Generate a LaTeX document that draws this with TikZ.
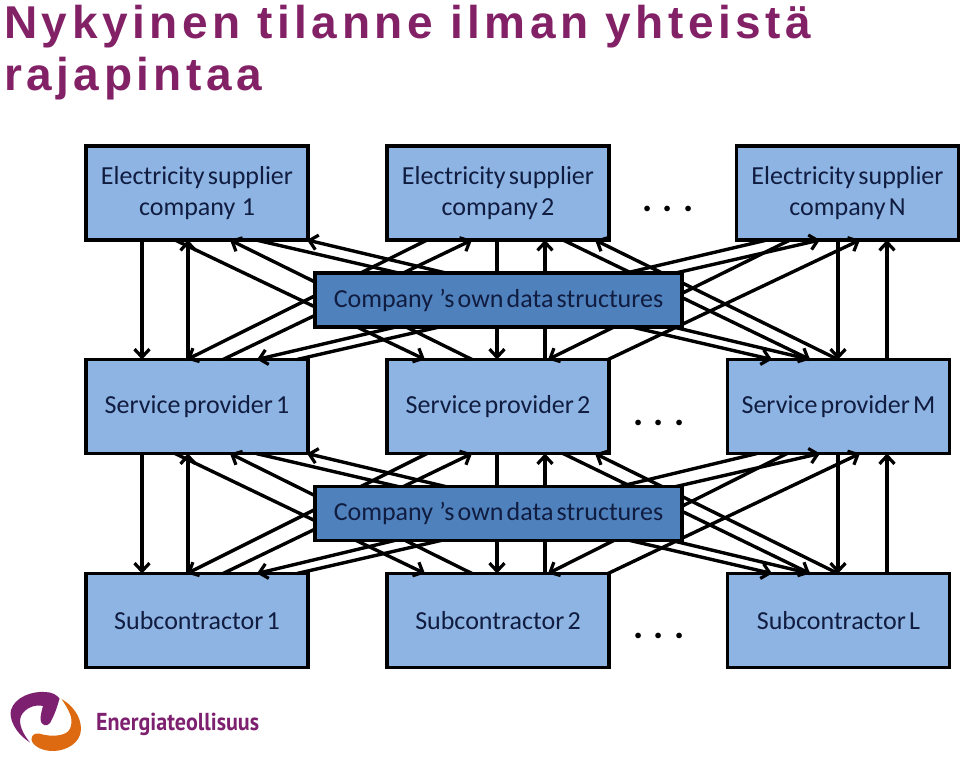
\documentclass[tikz,border=0pt]{standalone}
\usepackage{fontspec}
\usepackage{graphicx}
\setmainfont[WordSpace=0.55]{Carlito}
\newfontfamily\titlefont[LetterSpace=9.8]{Liberation Sans Bold}
\newfontfamily\logofont{PT Sans Bold}
\newfontfamily\dotsfont[LetterSpace=28]{Carlito Bold}
\usetikzlibrary{arrows.meta}
\definecolor{boxblue}{HTML}{8EB4E3}
\definecolor{midblue}{HTML}{4F81BD}
\definecolor{inkblue}{HTML}{101C40}
\definecolor{plum}{HTML}{832167}
\definecolor{logoplum}{HTML}{7D2070}
\definecolor{logoorange}{HTML}{DD6A10}
\tikzset{
  x=1pt,y=-1pt,
  boxbase/.style={draw=black,line width=3.6pt,rectangle,outer sep=0pt,inner sep=0pt,align=center,
    text=inkblue,font=\fontsize{26}{31}\selectfont},
  outerbox/.style={boxbase,fill=boxblue,minimum width=222pt,minimum height=94pt},
  midbox/.style={boxbase,fill=midblue,minimum width=367pt,minimum height=54pt},
  link/.style={draw=black,line width=3.4pt,-{Straight Barb[length=8pt,width=15pt,line width=3.2pt]}},
  heading/.style={anchor=base west,inner sep=0pt,text=plum,font=\fontsize{46}{52}\selectfont\titlefont},
  dotsnode/.style={inner sep=0pt,text=black,font=\fontsize{38}{38}\selectfont\dotsfont}
}
\newcommand{\linkdown}[4]{\draw[link] (#2,0 |- #1.south) -- (#4,0 |- #3.north);}
\newcommand{\linkup}[4]{\draw[link] (#2,0 |- #1.north) -- (#4,0 |- #3.south);}
\newcommand{\layer}[8]{%
  \linkdown{#1}{142}{#4}{142}
  \linkup{#4}{188}{#1}{188}
  \linkdown{#2}{427}{#4}{187}
  \linkup{#4}{223}{#2}{472}
  \linkdown{#1}{175}{#5}{425}
  \linkup{#5}{472}{#1}{230}
  \linkdown{#1}{256}{#6}{772}
  \linkup{#6}{810}{#1}{307}
  \linkdown{#3}{#7}{#4}{257}
  \linkup{#4}{297}{#3}{820}
  \linkdown{#2}{497}{#5}{497}
  \linkup{#5}{545}{#2}{545}
  \linkdown{#2}{563}{#6}{810}
  \linkup{#6}{838}{#2}{595}
  \linkdown{#3}{#8}{#5}{548}
  \linkup{#5}{608}{#3}{860}
  \linkdown{#3}{838}{#6}{838}
  \linkup{#6}{887}{#3}{887}
}
\begin{document}
\begin{tikzpicture}
\useasboundingbox (0,0) rectangle (960,757);
\fill[white] (0,0) rectangle (960,757);

\node[heading] (titleA) at (4,39) {Nykyinen tilanne ilman yhteistä};
\node[heading] (titleB) at (4,91) {rajapintaa};

% outer boxes
\node[outerbox] (t1) at (197,193) {Electricity supplier\\company \ 1};
\node[outerbox] (t2) at (498,193) {Electricity supplier\\company 2};
\node[outerbox] (t3) at (847.5,193) {Electricity supplier\\company N};
\node[outerbox] (m1) at (197,406.5) {Service provider 1};
\node[outerbox] (m2) at (498,406.5) {Service provider 2};
\node[outerbox] (m3) at (838.5,406.5) {Service provider M};
\node[outerbox] (b1) at (197,620.5) {Subcontractor 1};
\node[outerbox] (b2) at (498,620.5) {Subcontractor 2};
\node[outerbox] (b3) at (838.5,620.5) {Subcontractor L};

% connectors
\layer{t1}{t2}{t3}{m1}{m2}{m3}{767}{790}
\layer{m1}{m2}{m3}{b1}{b2}{b3}{757}{787}

% central boxes over the connectors
\node[midbox] (c1) at (498.5,300) {Company\hspace{3pt} ’s own data structures};
\node[midbox] (c2) at (498.5,513.5) {Company\hspace{3pt} ’s own data structures};

% ellipses
\node[dotsnode,anchor=base west] (d1) at (642,211) {...};
\node[dotsnode,anchor=base west] (d2) at (633,425) {...};
\node[dotsnode,anchor=base west] (d3) at (633,638) {...};

% logo
\fill[logoplum] (30,742.5) .. controls (14,732) and (9,718) .. (11,710)
  .. controls (15,697) and (32,691) .. (45,692)
  .. controls (52,692) and (57,695) .. (59.5,698.5)
  .. controls (57,708) and (54,716) .. (50,723)
  .. controls (47,727) and (41,726) .. (40.5,719)
  .. controls (40.5,715) and (42,710) .. (43,706)
  .. controls (35,704) and (25,708) .. (21,716)
  .. controls (18,724) and (23,734) .. (30,742.5) -- cycle;
\fill[logoorange] (61.5,699) .. controls (72,705) and (81,716) .. (81,729)
  .. controls (81,743) and (66,751) .. (53,751)
  .. controls (42,751) and (33,746) .. (31.5,740)
  .. controls (31,735) and (35,733) .. (39,733.5)
  .. controls (47,736) and (58,737) .. (66,733)
  .. controls (73,729) and (72,718) .. (70,714)
  .. controls (68,709) and (65,704) .. (61.5,699) -- cycle;
\node[anchor=base west,inner sep=0pt,text=logoplum,font=\fontsize{24.5}{27}\selectfont\logofont] (logotext) at (96,730) {\scalebox{0.9}[1]{Energiateollisuus}};
\end{tikzpicture}
\end{document}
